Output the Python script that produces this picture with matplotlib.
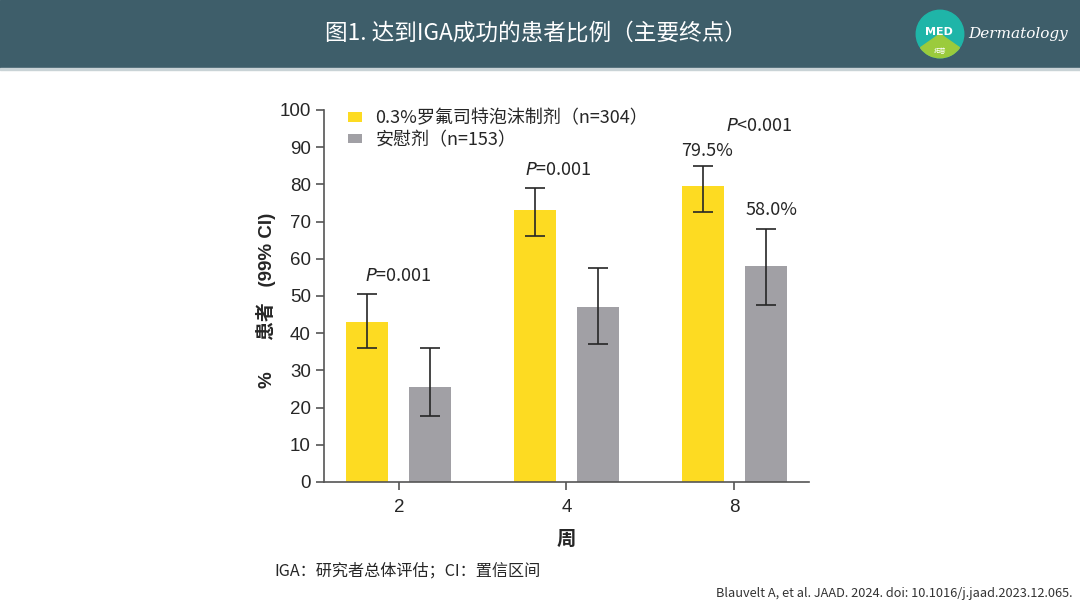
#recreates the IGA success bar chart (week 2/4/8, roflumilast foam vs vehicle)
import matplotlib
matplotlib.use('Agg')
import matplotlib.pyplot as plt
from matplotlib.patches import Circle, Wedge, Rectangle
import numpy as np

plt.rcParams['font.family'] = ['Noto Sans CJK SC', 'DejaVu Sans']

#data
weeks = ['2', '4', '8']
roflu = [43.0, 73.0, 79.5] #0.3% roflumilast foam
roflu_lo = [36.0, 66.0, 72.5]
roflu_hi = [50.5, 79.0, 85.0]
placebo = [25.5, 47.0, 58.0] #vehicle
placebo_lo = [17.7, 37.0, 47.5]
placebo_hi = [36.0, 57.5, 68.0]
labels = ['0.3%罗氟司特泡沫制剂（n=304）', '安慰剂（n=153）']
yticks = [0, 10, 20, 30, 40, 50, 60, 70, 80, 90, 100]

yellow = '#FDDB22'
grey = '#A1A0A5'
dark = '#262626'

fig = plt.figure(figsize=(10.8, 6.08), dpi=100)

#header band
fig.patches.append(Rectangle((0, 1 - 68/608), 1, 68/608, transform=fig.transFigure,
                             color='#3E5E6A', zorder=0))
fig.patches.append(Rectangle((0, 1 - 70/608), 1, 2/608, transform=fig.transFigure,
                             color='#C9D3D6', zorder=0))
fig.text(536/1080, 1 - 33/608, '图1. 达到IGA成功的患者比例（主要终点）', color='white',
         fontsize=16.3, ha='center', va='center')

#logo (drawn above the header band)
lax = fig.add_axes([915/1080, 1 - 60/608, 50/1080, 52/608])
lax.set_zorder(3)
lax.set_xlim(-1, 1); lax.set_ylim(-1, 1); lax.set_aspect('equal'); lax.axis('off')
lax.add_patch(Circle((0, 0), 0.95, color='#1FB5A8'))
lax.add_patch(Wedge((0, 0), 0.95, 215, 325, color='#9BCB3C'))
lax.text(-0.05, 0.08, 'MED', color='white', fontsize=8, ha='center', va='center',
         family='DejaVu Sans', fontweight='bold')
lax.text(0, -0.7, '拓普', color='white', fontsize=4.5, ha='center', va='center')
fig.text(968/1080, 1 - 34/608, 'Dermatology', color='white', fontsize=11,
         style='italic', family='DejaVu Serif', ha='left', va='center', zorder=4)

#main axes
ax = fig.add_axes([324/1080, 1 - 482/608, (809 - 324)/1080, (482 - 110)/608])
x = np.arange(len(weeks))
w = 0.25
off = 0.187
err_r = [np.array(roflu) - np.array(roflu_lo), np.array(roflu_hi) - np.array(roflu)]
err_p = [np.array(placebo) - np.array(placebo_lo), np.array(placebo_hi) - np.array(placebo)]
b1 = ax.bar(x - off, roflu, w, color=yellow, label=labels[0])
b2 = ax.bar(x + off, placebo, w, color=grey, label=labels[1])
ax.errorbar(x - off, roflu, yerr=err_r, fmt='none', ecolor=dark, elinewidth=1.2,
            capsize=7, capthick=1.2)
ax.errorbar(x + off, placebo, yerr=err_p, fmt='none', ecolor=dark, elinewidth=1.2,
            capsize=7, capthick=1.2)

ax.set_xlim(-0.446, 2.446)
ax.set_ylim(0, 100)
ax.set_xticks(x)
ax.set_xticklabels(weeks)
ax.set_yticks(yticks)
for s in ['top', 'right']:
  ax.spines[s].set_visible(False)
for s in ['left', 'bottom']:
  ax.spines[s].set_color('#555555')
  ax.spines[s].set_linewidth(1.2)
ax.tick_params(axis='both', colors='#555555', width=1.2, length=6, labelsize=13.5,
               labelcolor=dark)
for t in ax.get_xticklabels() + ax.get_yticklabels():
  t.set_family('Liberation Sans')
ax.tick_params(axis='x', pad=6)

ax.set_xlabel('周', fontsize=14, fontweight='bold', color=dark, labelpad=10)
ax.set_ylabel('%      患者   (99% CI)', fontsize=13.5, fontweight='bold', color=dark,
              family=['Liberation Sans', 'Noto Sans CJK SC'])
ax.yaxis.set_label_coords(-0.099, 0.487)

leg = ax.legend(handles=[b1, b2], loc='upper left', bbox_to_anchor=(0.015, 1.045),
                frameon=False, fontsize=13, handlelength=0.8, handleheight=0.4,
                handletextpad=0.75, labelspacing=0.2)
for t in leg.get_texts():
  t.set_color(dark)

#p-values and percentages
ax.text(0.0, 55.5, '$P$=0.001', fontsize=13, ha='center', va='center', color=dark)
ax.text(0.95, 83.8, '$P$=0.001', fontsize=13, ha='center', va='center', color=dark)
ax.text(2.15, 95.8, '$P$<0.001', fontsize=13, ha='center', va='center', color=dark)
ax.text(1.84, 89.0, '79.5%', fontsize=13, ha='center', va='center', color=dark)
ax.text(2.22, 73.0, '58.0%', fontsize=13, ha='center', va='center', color=dark)

#footer
fig.text(274/1080, 1 - 571/608, 'IGA：研究者总体评估；CI：置信区间', fontsize=11.6,
         color=dark, ha='left', va='center')
fig.text(1072/1080, 1 - 593/608, 'Blauvelt A, et al. JAAD. 2024. doi: 10.1016/j.jaad.2023.12.065.',
         fontsize=9.2, color='#333333', ha='right', va='center')

plt.savefig('out.png', dpi=100)
